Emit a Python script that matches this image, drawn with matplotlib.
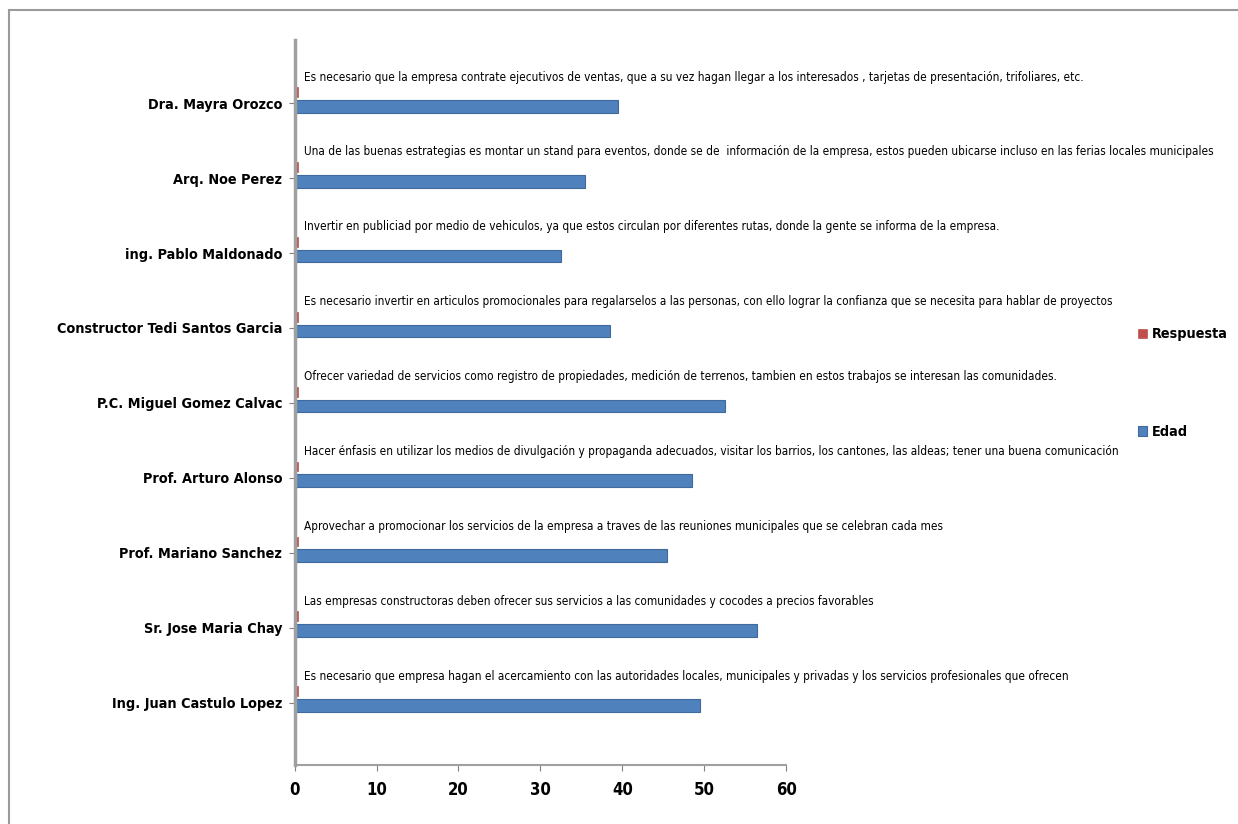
import matplotlib
matplotlib.use("Agg")
import matplotlib.pyplot as plt
from matplotlib import font_manager
from matplotlib.patches import Rectangle

# Interviewees, age and their suggested strategy (top to bottom)
nombres = [
    "Dra. Mayra Orozco",
    "Arq. Noe Perez",
    "ing. Pablo Maldonado",
    "Constructor Tedi Santos Garcia",
    "P.C. Miguel Gomez Calvac",
    "Prof. Arturo Alonso",
    "Prof. Mariano Sanchez",
    "Sr. Jose Maria Chay",
    "Ing. Juan Castulo Lopez",
]
edad = [39.5, 35.5, 32.5, 38.5, 52.5, 48.5, 45.5, 56.5, 49.5]
respuesta_valor = [0.4, 0.4, 0.4, 0.4, 0.4, 0.4, 0.4, 0.4, 0.4]
respuestas = [
    "Es necesario que la empresa contrate ejecutivos de ventas, que a su vez hagan llegar a los interesados , tarjetas de presentación, trifoliares, etc.",
    "Una de las buenas estrategias es montar un stand para eventos, donde se de  información de la empresa, estos pueden ubicarse incluso en las ferias locales municipales",
    "Invertir en publiciad por medio de vehiculos, ya que estos circulan por diferentes rutas, donde la gente se informa de la empresa.",
    "Es necesario invertir en articulos promocionales para regalarselos a las personas, con ello lograr la confianza que se necesita para hablar de proyectos",
    "Ofrecer variedad de servicios como registro de propiedades, medición de terrenos, tambien en estos trabajos se interesan las comunidades.",
    "Hacer énfasis en utilizar los medios de divulgación y propaganda adecuados, visitar los barrios, los cantones, las aldeas; tener una buena comunicación",
    "Aprovechar a promocionar los servicios de la empresa a traves de las reuniones municipales que se celebran cada mes",
    "Las empresas constructoras deben ofrecer sus servicios a las comunidades y cocodes a precios favorables",
    "Es necesario que empresa hagan el acercamiento con las autoridades locales, municipales y privadas y los servicios profesionales que ofrecen",
]
ticks = [0, 10, 20, 30, 40, 50, 60]

AZUL = "#4F81BD"
ROJO = "#C0504D"

# prefer a condensed face if one is installed
cond = font_manager.findfont(font_manager.FontProperties(family="DejaVu Sans", stretch="condensed"))
if "Condensed" in cond:
    FONT = ["DejaVu Sans"]
    STRETCH = "condensed"
    SZ_TXT, SZ_LBL, SZ_TICK, SZ_LEG = 8.5, 10.4, 12, 10.4
else:
    FONT = ["Liberation Sans", "DejaVu Sans"]
    STRETCH = "normal"
    SZ_TXT, SZ_LBL, SZ_TICK, SZ_LEG = 8.7, 11, 12, 10.4
plt.rcParams["font.family"] = FONT
plt.rcParams["font.stretch"] = STRETCH

fig = plt.figure(figsize=(12.38, 8.24), dpi=100)
fig.patches.append(Rectangle((0.007, -0.1), 1.1, 1.088, transform=fig.transFigure,
                             fill=False, edgecolor="#9a9a9a", linewidth=1.5))
ax = fig.add_axes([0.238, 0.072, 0.397, 0.879])

pos = list(range(len(nombres)))
ax.barh([p + 0.04 for p in pos], edad, height=0.17, color=AZUL,
        edgecolor="#3f6a9c", linewidth=0.8, label="Edad")
ax.barh([p - 0.15 for p in pos], respuesta_valor, height=0.13, color=ROJO,
        edgecolor=ROJO, linewidth=0.5, label="Respuesta")

for p, txt in zip(pos, respuestas):
    ax.text(1.2, p - 0.35, txt, fontsize=SZ_TXT, va="center", ha="left",
            clip_on=False, fontstretch=STRETCH)

ax.set_xlim(0, 60)
ax.set_ylim(len(nombres) - 0.17, -0.84)
ax.set_yticks(pos)
ax.set_yticklabels(nombres, fontsize=SZ_LBL, fontweight="bold", fontstretch=STRETCH)
ax.set_xticks(ticks)
ax.set_xticklabels([str(t) for t in ticks], fontsize=SZ_TICK, fontweight="bold",
                   fontstretch=STRETCH)
ax.tick_params(axis="y", length=4, pad=5, color="#808080")
ax.tick_params(axis="x", length=4, pad=8, color="#808080")

for s in ("top", "right"):
    ax.spines[s].set_visible(False)
ax.spines["left"].set_color("#a0a0a0")
ax.spines["left"].set_linewidth(2.5)
ax.spines["bottom"].set_color("#a0a0a0")
ax.spines["bottom"].set_linewidth(1.5)

handles, labels = ax.get_legend_handles_labels()
leg = fig.legend(handles[::-1], labels[::-1], loc="center left",
                 bbox_to_anchor=(0.909, 0.535), frameon=False,
                 prop={"size": SZ_LEG, "weight": "bold", "family": FONT, "stretch": STRETCH},
                 handlelength=0.6, handleheight=0.6, handletextpad=0.35,
                 labelspacing=5.8)

fig.savefig("out.png", dpi=100)
